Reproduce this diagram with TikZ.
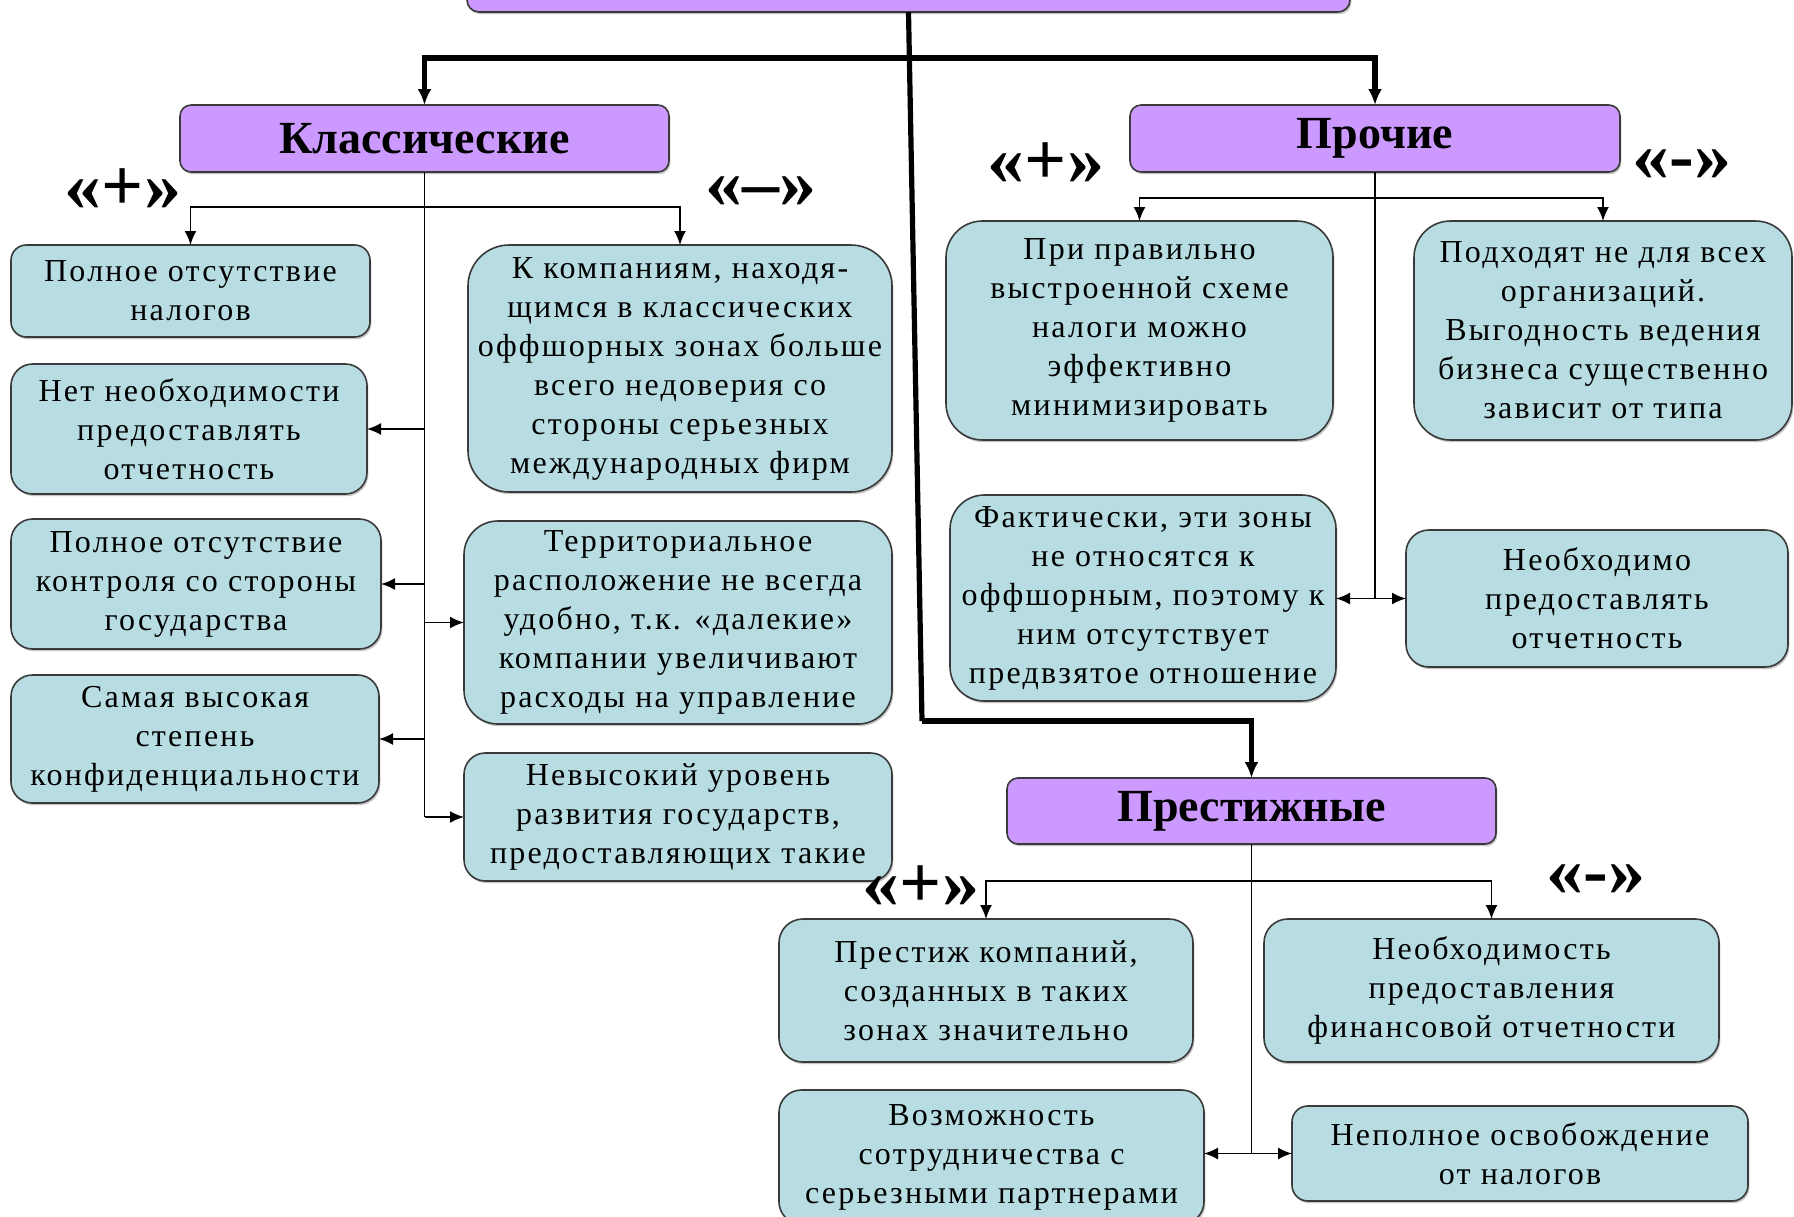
\documentclass[tikz,border=0pt]{standalone}
\usepackage{fontspec}
\setmainfont{Liberation Serif}
\usetikzlibrary{arrows.meta,shadows}
\definecolor{boxfill}{HTML}{B7DDE3}
\definecolor{hdrfill}{HTML}{CC99FF}
\definecolor{edge}{HTML}{3A3A3A}
\tikzset{
 basebox/.style={draw=edge, line width=0.8pt, inner sep=0pt, outer sep=0pt,
   drop shadow={shadow xshift=0.7pt, shadow yshift=-1.1pt, fill=black!45}},
 cbox/.style={basebox, fill=boxfill, align=center,
   font=\fontsize{16}{19.5}\selectfont\addfontfeature{LetterSpace=7}},
 hbox/.style={basebox, fill=hdrfill, font=\fontsize{23}{26}\selectfont\bfseries},
 thinline/.style={line width=0.9pt, draw=black},
 thinarr/.style={thinline, -{Latex[length=7pt,width=6pt]}},
 dblarr/.style={thinline, {Latex[length=7pt,width=6pt]}-{Latex[length=7pt,width=6pt]}},
 trunk/.style={line width=2.6pt, draw=black},
 trunkarr/.style={trunk, -{Latex[length=8pt,width=7pt]}},
 sign/.style={font=\fontsize{37}{39}\selectfont\bfseries, inner sep=0pt},
}
\newcommand\mkbox[7]{%
 \pgfmathsetmacro\rr{0.0833*min(#5-#3,#6-#4)}%
 \pgfmathsetmacro\cx{(#3+#5)/2}%
 \pgfmathsetmacro\cy{(#4+#6)/2}%
 \pgfmathsetmacro\ww{(#5-#3)*0.5}%
 \pgfmathsetmacro\hh{(#6-#4)*0.5}%
 \node[#1, rounded corners=\rr pt, minimum width=\ww pt, minimum height=\hh pt] (#2) at (\cx,\cy) {#7};}
\begin{document}
\begin{tikzpicture}[x=0.5pt, y=-0.5pt]
\fill[white] (0,0) rectangle (1794,1216);
\useasboundingbox (0,0) rectangle (1794,1216);

% headers
\mkbox{hbox}{title}{467}{-60}{1350}{12}{}
\mkbox{hbox}{klass}{180}{105}{669}{172}{Классические}
\mkbox{hbox}{pr}{1130}{105}{1620}{172}{Прочие}
\mkbox{hbox}{prest}{1007}{778}{1496}{844}{Престижные}

% Классические
\mkbox{cbox}{kp1}{11}{245}{370}{337}{Полное отсутствие\\налогов}
\mkbox{cbox}{kp2}{11}{364}{367}{494}{Нет необходимости\\предоставлять\\отчетность}
\mkbox{cbox}{kp3}{11}{519}{381}{649}{Полное отсутствие\\контроля со стороны\\государства}
\mkbox{cbox}{kp4}{11}{675}{379}{803}{Самая высокая\\степень\\конфиденциальности}
\mkbox{cbox}{km1}{468}{245}{892}{492}{К компаниям, находя-\\щимся в классических\\оффшорных зонах больше\\всего недоверия со\\стороны серьезных\\международных фирм}
\mkbox{cbox}{km2}{464}{521}{892}{724}{Территориальное\\расположение не всегда\\удобно, т.к. «далекие»\\компании увеличивают\\расходы на управление}
\mkbox{cbox}{km3}{464}{753}{892}{881}{Невысокий уровень\\развития государств,\\предоставляющих такие}

% Прочие
\mkbox{cbox}{pp1}{946}{221}{1333}{440}{При правильно\\выстроенной схеме\\налоги можно\\эффективно\\минимизировать}
\mkbox{cbox}{pm1}{1414}{221}{1792}{440}{Подходят не для всех\\организаций.\\Выгодность ведения\\бизнеса существенно\\зависит от типа}
\mkbox{cbox}{pp2}{950}{495}{1336}{701}{Фактически, эти зоны\\не относятся к\\оффшорным, поэтому к\\ним отсутствует\\предвзятое отношение}
\mkbox{cbox}{pm2}{1406}{530}{1788}{667}{Необходимо\\предоставлять\\отчетность}

% Престижные
\mkbox{cbox}{sp1}{779}{919}{1193}{1062}{Престиж компаний,\\созданных в таких\\зонах значительно}
\mkbox{cbox}{sm1}{1264}{919}{1719}{1062}{Необходимость\\предоставления\\финансовой отчетности}
\mkbox{cbox}{sp2}{779}{1090}{1204}{1224}{Возможность\\сотрудничества с\\серьезными партнерами}
\mkbox{cbox}{sm2}{1292}{1106}{1748}{1201}{Неполное освобождение\\от налогов}

% signs
\node[sign] (kplus) at (123,190) {«+»};
\node[sign] (kminus) at (761,192) {«–»};
\node[sign] (pplus) at (1046,164) {«+»};
\node[sign] (pminus) at (1682,165) {«-»};
\node[sign] (splus) at (921,887) {«+»};
\node[sign] (sminus) at (1596,880) {«-»};

% trunk
\coordinate (tj) at (909.4,58);
\coordinate (tb) at (922,721);
\draw[trunk] (title.south) -- (tb);
\draw[trunkarr] (tb) -| (prest.north);
\draw[trunkarr] (tj) -| (klass.north);
\draw[trunkarr] (tj) -| (pr.north);

% Классические connectors
\coordinate (kb) at (424.5,207);
\draw[thinline] (klass.south) -- (klass.south |- km3.west);
\draw[thinarr] (kb) -| (kp1.north);
\draw[thinarr] (kb) -| (km1.north);
\draw[thinarr] (klass.south |- kp2.east) -- (kp2.east);
\draw[thinarr] (klass.south |- kp3.east) -- (kp3.east);
\draw[thinarr] (klass.south |- kp4.east) -- (kp4.east);
\draw[thinarr] (klass.south |- km2.west) -- (km2.west);
\draw[thinarr] (klass.south |- km3.west) -- (km3.west);

% Прочие connectors
\coordinate (pb) at (1375,198);
\draw[thinline] (pr.south) -- (pr.south |- pm2.west);
\draw[thinarr] (pb) -| (pp1.north);
\draw[thinarr] (pb) -| (pm1.north);
\draw[dblarr] (pp2.east |- pm2.west) -- (pm2.west);

% Престижные connectors
\coordinate (sb) at (1251.5,881);
\draw[thinline] (prest.south) -- (prest.south |- sm2.west);
\draw[thinarr] (sb) -| (sp1.north);
\draw[thinarr] (sb) -| (sm1.north);
\draw[dblarr] (sp2.east |- sm2.west) -- (sm2.west);
\end{tikzpicture}
\end{document}
